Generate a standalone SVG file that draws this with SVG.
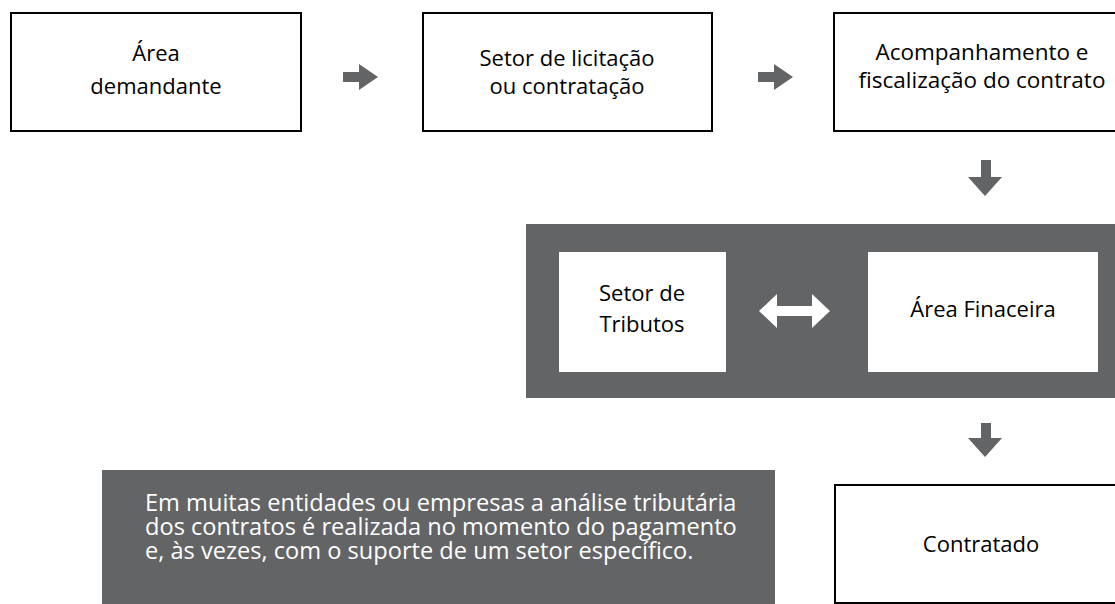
<svg xmlns="http://www.w3.org/2000/svg" width="1115" height="604" viewBox="0 0 1115 604">
<style>
.box{fill:#fff;stroke:#000;stroke-width:2}
.wbox{fill:#fff}
.panel{fill:#636466}
.t{font-family:"Open Sans","Noto Sans","Liberation Sans",sans-serif;font-size:22px;fill:#000;text-anchor:middle}
.note{font-family:"Open Sans","Noto Sans","Liberation Sans",sans-serif;font-size:23.6px;fill:#fff}
.arr{fill:#636466}
.warr{fill:#fff}
</style>
<rect width="1115" height="604" fill="#fff"/>
<g id="n1">
<rect class="box" x="11" y="13" width="290" height="118"/>
<text class="t" x="156" y="61">Área</text>
<text class="t" x="156" y="94">demandante</text>
</g>
<g id="n2">
<rect class="box" x="423" y="13" width="289" height="118"/>
<text class="t" x="567" y="66">Setor de licitação</text>
<text class="t" x="567" y="94">ou contratação</text>
</g>
<g id="n3">
<rect class="box" x="834" y="13" width="290" height="118"/>
<text class="t" x="982" y="60" style="font-size:22.5px">Acompanhamento e</text>
<text class="t" x="982" y="88" style="font-size:22.5px">fiscalização do contrato</text>
</g>
<g id="panel">
<rect class="panel" x="526" y="224" width="600" height="174"/>
</g>
<g id="n4">
<rect class="wbox" x="559" y="252" width="167" height="120"/>
<text class="t" x="642" y="301">Setor de</text>
<text class="t" x="642" y="332">Tributos</text>
</g>
<g id="n5">
<rect class="wbox" x="868" y="252" width="230" height="120"/>
<text class="t" x="983" y="317">Área Finaceira</text>
</g>
<g id="n6">
<rect class="box" x="835" y="485" width="290" height="118"/>
<text class="t" x="981" y="552">Contratado</text>
</g>
<g id="note">
<rect class="panel" x="102" y="470" width="673" height="134"/>
<text class="note" x="145" y="511">Em muitas entidades ou empresas a análise tributária</text>
<text class="note" x="145" y="535">dos contratos é realizada no momento do pagamento</text>
<text class="note" x="145" y="559">e, às vezes, com o suporte de um setor específico.</text>
</g>
<g id="connectors">
<polygon class="arr" points="343,72 359,72 359,64 378,77 359,90 359,82 343,82"/>
<polygon class="arr" points="758,72 774,72 774,64 793,77 774,90 774,82 758,82"/>
<polygon class="arr" points="981,160 991,160 991,177 1002,177 985,196 968,177 981,177"/>
<polygon class="arr" points="981,423 991,423 991,438 1002,438 985,457 968,438 981,438"/>
<polygon class="warr" points="759,311 777,294 777,306 812,306 812,294 830,311 812,328 812,316 777,316 777,328"/>
</g>
</svg>
